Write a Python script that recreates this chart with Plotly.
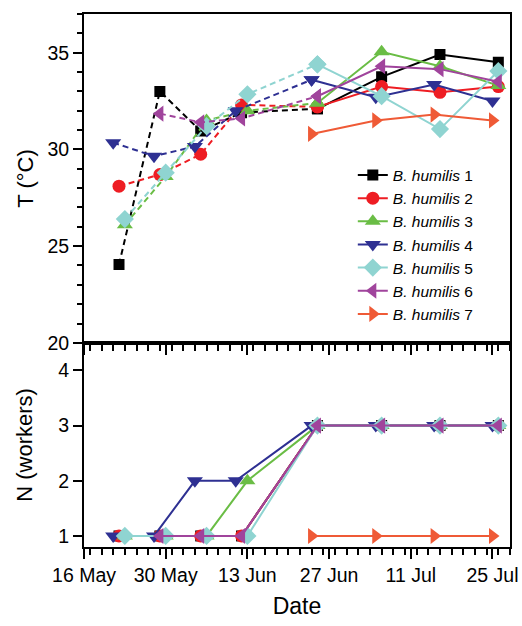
import plotly.graph_objects as go

# ---------------- data ----------------
names = ["1", "2", "3", "4", "5", "6", "7"]
colors = ["#000000", "#ee1d23", "#6abd45", "#2e3092", "#8fd4d1", "#a0449c", "#ef5a36"]
symbols = ["square", "circle", "triangle-up", "triangle-down", "diamond", "triangle-left", "triangle-right"]
sizes = [11, 13, 14, 14, 14, 14, 14]

dates_1 = ["2009-05-22", "2009-05-29", "2009-06-05", "2009-06-12", "2009-06-25", "2009-07-06", "2009-07-16", "2009-07-26"]
dates_2 = ["2009-05-22", "2009-05-29", "2009-06-05", "2009-06-12", "2009-06-25", "2009-07-06", "2009-07-16", "2009-07-26"]
dates_3 = ["2009-05-23", "2009-05-30", "2009-06-06", "2009-06-13", "2009-06-25", "2009-07-06", "2009-07-16", "2009-07-26"]
dates_4 = ["2009-05-21", "2009-05-28", "2009-06-04", "2009-06-11", "2009-06-24", "2009-07-05", "2009-07-15", "2009-07-25"]
dates_5 = ["2009-05-23", "2009-05-30", "2009-06-06", "2009-06-13", "2009-06-25", "2009-07-06", "2009-07-16", "2009-07-26"]
dates_6 = ["2009-05-29", "2009-06-05", "2009-06-12", "2009-06-25", "2009-07-06", "2009-07-16", "2009-07-26"]
dates_7 = ["2009-06-24", "2009-07-05", "2009-07-15", "2009-07-25"]

temp_1 = [24.05, 33.0, 30.95, 31.9, 32.1, 33.75, 34.9, 34.5]
temp_2 = [28.1, 28.7, 29.75, 32.3, 32.2, 33.25, 32.95, 33.25]
temp_3 = [26.1, 28.6, 31.5, 32.0, 32.4, 35.05, 34.3, 33.3]
temp_4 = [30.35, 29.65, 30.15, 32.0, 33.6, 32.7, 33.35, 32.5]
temp_5 = [26.4, 28.8, 31.2, 32.85, 34.4, 32.75, 31.05, 34.05]
temp_6 = [31.85, 31.4, 31.6, 32.75, 34.3, 34.15, 33.5]
temp_7 = [30.8, 31.5, 31.8, 31.5]

workers_1 = [1, 1, 1, 1, 3, 3, 3, 3]
workers_2 = [1, 1, 1, 1, 3, 3, 3, 3]
workers_3 = [1, 1, 1, 2, 3, 3, 3, 3]
workers_4 = [1, 1, 2, 2, 3, 3, 3, 3]
workers_5 = [1, 1, 1, 1, 3, 3, 3, 3]
workers_6 = [1, 1, 1, 3, 3, 3, 3]
workers_7 = [1, 1, 1, 1]

# index of first "solid" (late-season) point for each colony
solid_start = [4, 4, 4, 4, 4, 3, 0]

all_dates = [dates_1, dates_2, dates_3, dates_4, dates_5, dates_6, dates_7]
all_temp = [temp_1, temp_2, temp_3, temp_4, temp_5, temp_6, temp_7]
all_workers = [workers_1, workers_2, workers_3, workers_4, workers_5, workers_6, workers_7]

x_range = ["2009-05-16", "2009-07-28"]
x_tick0 = "2009-05-16"
DAY = 86400000

# ---------------- figure ----------------
fig = go.Figure()
FONT = "Liberation Sans, Arial, sans-serif"

for i in range(7):
    d, t, w = all_dates[i], all_temp[i], all_workers[i]
    k = solid_start[i]
    mk = dict(symbol=symbols[i], size=sizes[i], color=colors[i], line=dict(width=0))
    label = "<i>B. humilis</i> " + names[i]
    if k > 0:
        fig.add_trace(go.Scatter(x=d[:k + 1], y=t[:k + 1], mode="lines+markers",
                                 line=dict(color=colors[i], width=2, dash="6px,4px"),
                                 marker=mk, showlegend=False, xaxis="x", yaxis="y"))
    fig.add_trace(go.Scatter(x=d[k:], y=t[k:], mode="lines+markers",
                             line=dict(color=colors[i], width=2),
                             marker=mk, name=label, showlegend=True, xaxis="x", yaxis="y"))

for i in range(7):
    mk = dict(symbol=symbols[i], size=sizes[i], color=colors[i], line=dict(width=0))
    fig.add_trace(go.Scatter(x=all_dates[i], y=all_workers[i], mode="lines+markers",
                             line=dict(color=colors[i], width=2),
                             marker=mk, showlegend=False, xaxis="x2", yaxis="y2"))

split = 0.383
common_x = dict(type="date", range=x_range, tick0=x_tick0, dtick=14 * DAY,
                tickformat="%d %b", showgrid=False, zeroline=False, automargin=False,
                showline=True, linecolor="black", linewidth=2,
                ticklen=10, tickwidth=2, tickcolor="black",
                minor=dict(dtick=2 * DAY, ticklen=6, tickwidth=1.5, tickcolor="black"))

fig.update_layout(
    width=522, height=626,
    margin=dict(l=84, r=12, t=14, b=79),
    paper_bgcolor="white", plot_bgcolor="white",
    font=dict(family=FONT, size=19.5, color="black"),
    xaxis=dict(common_x, anchor="y", side="bottom", ticks="outside",
               showticklabels=False, mirror=True,
               minor=dict(common_x["minor"], ticks="outside")),
    xaxis3=dict(common_x, overlaying="x", anchor="y", side="top", ticks="inside",
                showticklabels=False, showline=False,
                minor=dict(common_x["minor"], ticks="inside")),
    xaxis2=dict(common_x, anchor="y2", side="bottom", ticks="outside",
                showticklabels=True, mirror=True,
                tickfont=dict(size=19.5),
                title=dict(text="Date", font=dict(size=23), standoff=12),
                minor=dict(common_x["minor"], ticks="outside")),
    yaxis=dict(domain=[split, 1], anchor="x", range=[20, 37], tick0=20, dtick=5,
               showgrid=False, zeroline=False, showline=True, mirror=True, automargin=False,
               linecolor="black", linewidth=2, ticks="outside", ticklen=9, tickwidth=2,
               tickcolor="black", tickfont=dict(size=19.5),
               minor=dict(dtick=1, ticks="outside", ticklen=5, tickwidth=1.5, tickcolor="black"),
               title=dict(text="T (°C)", font=dict(size=22), standoff=8)),
    yaxis3=dict(overlaying="y", anchor="x", side="right", range=[20, 37], tick0=20, dtick=5,
                showgrid=False, zeroline=False, showline=False, showticklabels=False,
                automargin=False,
                ticks="inside", ticklen=9, tickwidth=2, tickcolor="black",
                minor=dict(dtick=1, ticks="inside", ticklen=5, tickwidth=1.5, tickcolor="black")),
    yaxis2=dict(domain=[0, split], anchor="x2", range=[0.8, 4.5], tick0=1, dtick=1,
                showgrid=False, zeroline=False, showline=True, mirror=True, automargin=False,
                linecolor="black", linewidth=2, ticks="outside", ticklen=9, tickwidth=2,
                tickcolor="black", tickfont=dict(size=19.5),
                title=dict(text="N (workers)", font=dict(size=22), standoff=20)),
    yaxis4=dict(overlaying="y2", anchor="x2", side="right", range=[0.8, 4.5], tick0=1, dtick=1,
                showgrid=False, zeroline=False, showline=False, showticklabels=False,
                automargin=False,
                ticks="inside", ticklen=9, tickwidth=2, tickcolor="black"),
    legend=dict(x=0.631, y=0.729, xanchor="left", yanchor="top",
                bgcolor="rgba(0,0,0,0)", font=dict(size=15.5), tracegroupgap=0,
                itemwidth=30),
    showlegend=True,
)

# remove the default 8px page margin so the 522x626 figure fills the window exactly
fig.write_html("out.html", config={"displayModeBar": False},
               post_script="document.body.style.margin='0px';")
